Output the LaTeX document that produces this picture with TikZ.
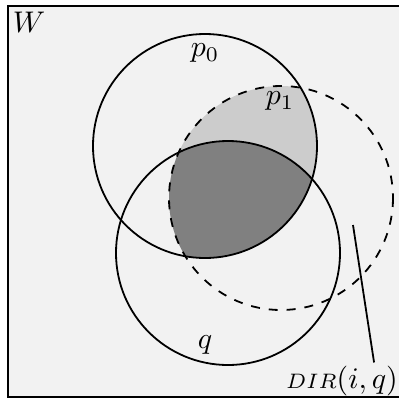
\documentclass[tikz,border=0pt]{standalone}
\usetikzlibrary{positioning}
\begin{document}
\begin{tikzpicture}[
  x=0.01176cm, y=-0.01176cm,
  ring/.style={draw, semithick},
  lbl/.style={inner sep=1pt},
]
\useasboundingbox (0,0) rectangle (398,399);
% world box
\draw[semithick, fill=black!5] (8,6) rectangle (404,397);
\node[lbl] (wlbl) at (29,22) {$W$};
% centres
\coordinate (cp0) at (205,146);
\coordinate (cp1) at (281,198);
\coordinate (cq) at (228,253);
% shaded parts
\begin{scope}
  \clip (cp0) circle[radius=112];
  \fill[black!20] (cp1) circle[radius=112];
  \clip (cp1) circle[radius=112];
  \fill[black!50] (cq) circle[radius=112];
\end{scope}
% circles
\draw[ring] (cp0) circle[radius=112];
\draw[ring] (cq) circle[radius=112];
\draw[ring, dashed] (cp1) circle[radius=112];
\node[lbl] (p0lbl) at (205,53) {$p_0$};
\node[lbl] (p1lbl) at (280,101) {$p_1$};
\node[lbl] (qlbl) at (205,345) {$q$};
% direction label
\node[lbl] (dirlbl) at (342,381) {{\scriptsize$DIR$}$(i,q)$};
\coordinate (dirtop) at (353,225);
\draw[semithick] (dirtop) -- (dirlbl.30);
\end{tikzpicture}
\end{document}
